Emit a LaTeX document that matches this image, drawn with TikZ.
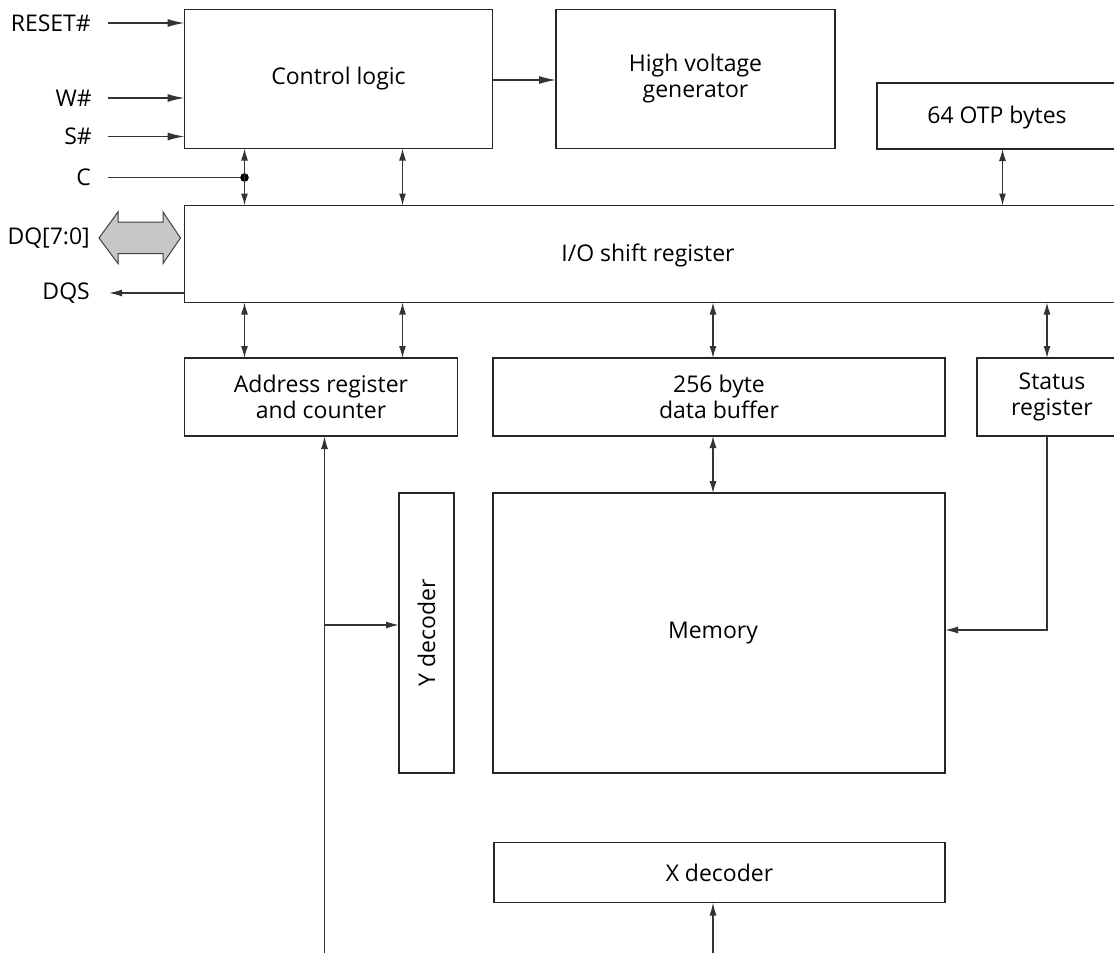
\documentclass[tikz,border=0pt]{standalone}
\usepackage{fontspec}
\setmainfont{Open Sans}
\usetikzlibrary{arrows.meta,calc}
\begin{document}
\begin{tikzpicture}[x=1pt,y=-1pt,
  blk/.style={draw=black!85,line width=1.3pt,inner sep=0pt,outer sep=0pt,anchor=north west,
    font=\fontsize{23}{26}\selectfont,align=center},
  txt/.style={inner sep=0pt,font=\fontsize{23}{26}\selectfont,align=center},
  lbl/.style={inner sep=0pt,font=\fontsize{23}{26}\selectfont,anchor=east},
  wire/.style={draw=black!80,line width=1.3pt},
  inarr/.style={wire,-{Latex[length=17pt,width=8pt]}},
  sarr/.style={wire,-{Latex[length=13pt,width=7pt]}},
  dbl/.style={wire,{Latex[length=12pt,width=7pt]}-{Latex[length=12pt,width=7pt]}}
]
\clip (0,0) rectangle (1114,953);
\fill[white] (0,0) rectangle (1114,953);

% blocks
\node[blk,minimum width=308pt,minimum height=139pt] (ctrl) at (184.5,9.5) {Control logic};
\node[blk,minimum width=279pt,minimum height=139pt] (hv) at (556,9.5) {High voltage\\generator};
\node[blk,minimum width=260pt,minimum height=66pt] (otp) at (877,83) {};
\node[txt] (otpt) at (997,118) {64 OTP bytes};
\node[blk,minimum width=960pt,minimum height=97pt] (io) at (184.5,205.5) {};
\node[txt] (iot) at (648,255) {I/O shift register};
\node[blk,minimum width=273pt,minimum height=78pt] (addr) at (184.5,358) {Address register\\and counter};
\node[blk,minimum width=452pt,minimum height=78pt] (buf) at (493,358) {256 byte\\data buffer};
\node[blk,minimum width=170pt,minimum height=78pt] (stat) at (977,358) {};
\node[txt] (statt) at (1052,397) {Status\\register};
\node[blk,minimum width=55pt,minimum height=280pt] (ydec) at (399,493) {};
\node[txt,rotate=90] (ydect) at (ydec.center) {Y decoder};
\node[blk,minimum width=452pt,minimum height=280pt] (mem) at (493,493) {};
\node[txt] (memt) at (713,633) {Memory};
\node[blk,minimum width=451pt,minimum height=60pt] (xdec) at (494,842.5) {X decoder};

% column coordinates
\coordinate (c1) at (244.5,0);
\coordinate (c2) at (402.5,0);
\coordinate (c3) at (713,0);
\coordinate (c4) at (1047,0);
\coordinate (c5) at (1002.5,0);
\coordinate (ca) at (324.5,0);
\coordinate (bot1) at (324.5,953);
\coordinate (bot2) at (713,953);
\coordinate (ybr) at (0,625);
\coordinate (sbr) at (0,630);

% pin labels
\node[lbl] (lreset) at (91,23) {RESET\#};
\node[lbl] (lw) at (92,98) {W\#};
\node[lbl] (ls) at (92,136.5) {S\#};
\node[lbl] (lc) at (91,177.5) {C};
\node[lbl] (ldq) at (90,238) {DQ[7:0]};
\node[lbl] (ldqs) at (90,293) {DQS};

% pin wires
\draw[inarr] ([xshift=17pt]lreset.east) -- (lreset.east -| ctrl.west);
\draw[inarr] ([xshift=16pt]lw.east) -- (lw.east -| ctrl.west);
\draw[inarr] ([xshift=16pt]ls.east) -- (ls.east -| ctrl.west);
\draw[wire] ([xshift=17pt]lc.east) -- (lc.east -| c1);
\fill[black] (lc.east -| c1) circle (4.3pt);
\draw[sarr] (ldqs.east -| io.west) -- ([xshift=19pt]ldqs.east);

% DQ bus arrow
\draw[draw=black!75,line width=1pt,fill=black!22]
  (99,238) -- (118,212) -- (118,222) -- (163,222) -- (163,212) -- (180.5,238)
  -- (163,263.5) -- (163,253.5) -- (118,253.5) -- (118,263.5) -- cycle;

% control to HV
\draw[inarr] (ctrl.east |- 0,80) -- (hv.west |- 0,80);

% vertical bidirectional links
\draw[dbl] (ctrl.south -| c1) -- (io.north -| c1);
\draw[dbl] (ctrl.south -| c2) -- (io.north -| c2);
\draw[dbl] (otp.south -| c5) -- (io.north -| c5);
\draw[dbl] (io.south -| c1) -- (addr.north -| c1);
\draw[dbl] (io.south -| c2) -- (addr.north -| c2);
\draw[dbl] (io.south -| c3) -- (buf.north -| c3);
\draw[dbl] (io.south -| c4) -- (stat.north -| c4);
\draw[dbl] (buf.south -| c3) -- (mem.north -| c3);

% address path
\draw[sarr] (bot1) -- (addr.south -| ca);
\draw[sarr] (ca |- ybr) -- (ydec.west |- ybr);

% status to memory
\draw[sarr] (stat.south -| c4) -- (c4 |- sbr) -- (mem.east |- sbr);

% X decoder input
\draw[sarr] (bot2) -- (xdec.south -| c3);
\end{tikzpicture}
\end{document}
